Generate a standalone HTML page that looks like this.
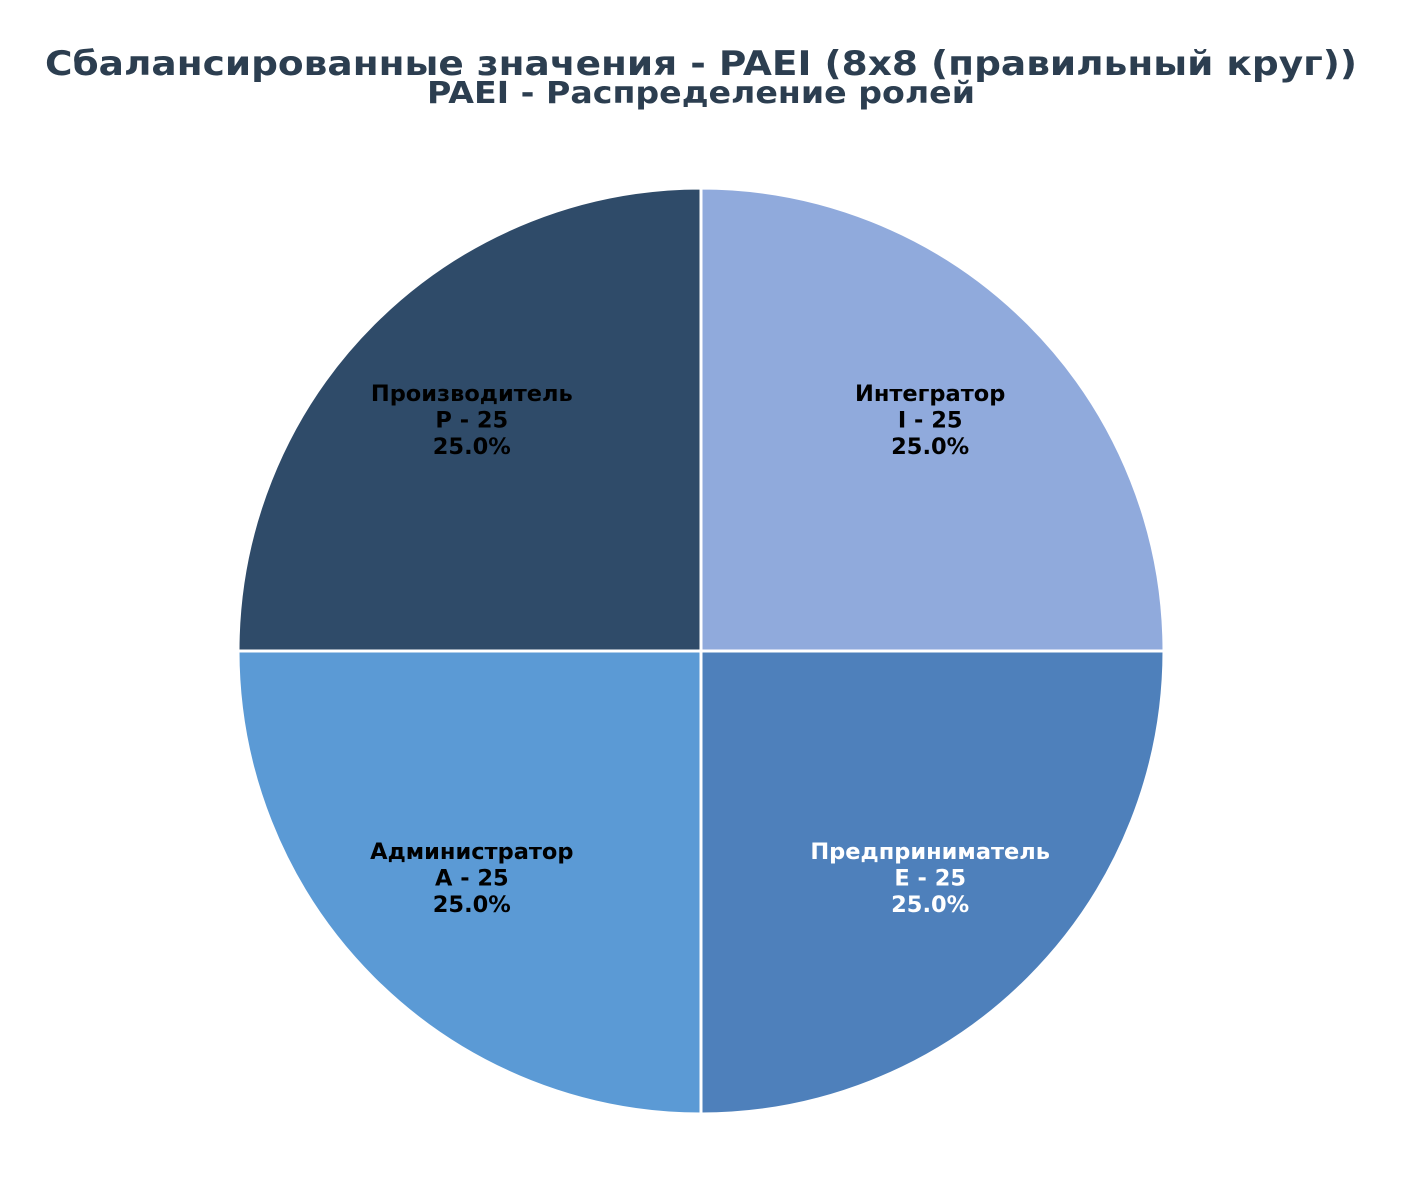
<!DOCTYPE html>
<html>
<head>
<meta charset="utf-8">
<style>
  html,body{margin:0;padding:0;background:#fff;}
  svg{display:block;}
  text{font-family:"DejaVu Sans","Liberation Sans",sans-serif;font-weight:bold;}
</style>
</head>
<body>
<svg id="chart" width="1402" height="1203" viewBox="0 0 1402 1203">
  <rect width="1402" height="1203" fill="#fff"/>
  <text x="701" y="75" text-anchor="middle" font-size="34" fill="#2c3e50" textLength="1312" lengthAdjust="spacingAndGlyphs">Сбалансированные значения - PAEI (8x8 (правильный круг))</text>
  <text x="701" y="103" text-anchor="middle" font-size="30" fill="#2c3e50" textLength="548" lengthAdjust="spacingAndGlyphs">PAEI - Распределение ролей</text>
  <g id="pie"></g>
</svg>
<script>
const categories = ["Производитель", "Администратор", "Предприниматель", "Интегратор"];
const codes = ["P", "A", "E", "I"];
const values = [25, 25, 25, 25];
const colors = ["#2f4b69", "#5b9ad5", "#4e80bb", "#90aadc"];
const textColors = ["#000", "#000", "#fff", "#000"];

const NS = "http://www.w3.org/2000/svg";
const g = document.getElementById("pie");
const cx = 701, cy = 651, r = 463;
const total = values.reduce((a, b) => a + b, 0);
let start = 90;
function pt(deg, rad) {
  const a = deg * Math.PI / 180;
  return [cx + rad * Math.cos(a), cy - rad * Math.sin(a)];
}
values.forEach((v, i) => {
  const sweep = v / total * 360;
  const end = start + sweep;
  const [x1, y1] = pt(start, r);
  const [x2, y2] = pt(end, r);
  const large = sweep > 180 ? 1 : 0;
  const p = document.createElementNS(NS, "path");
  p.setAttribute("d", `M${cx},${cy} L${x1},${y1} A${r},${r} 0 ${large} 0 ${x2},${y2} Z`);
  p.setAttribute("fill", colors[i]);
  p.setAttribute("stroke", "#fff");
  p.setAttribute("stroke-width", "3");
  
  
  g.appendChild(p);

  const mid = start + sweep / 2;
  const [lx, ly] = pt(mid, r * 0.7);
  const lines = [categories[i], codes[i] + " - " + v, (v / total * 100).toFixed(1) + "%"];
  const t = document.createElementNS(NS, "text");
  t.setAttribute("text-anchor", "middle");
  t.setAttribute("font-size", "22.5");
  t.setAttribute("fill", textColors[i]);
  
  
  lines.forEach((ln, k) => {
    const s = document.createElementNS(NS, "tspan");
    s.setAttribute("x", lx);
    s.setAttribute("y", ly - 21 + k * 26.5);
    s.textContent = ln;
    t.appendChild(s);
  });
  g.appendChild(t);
  start = end;
});
</script>
</body>
</html>
